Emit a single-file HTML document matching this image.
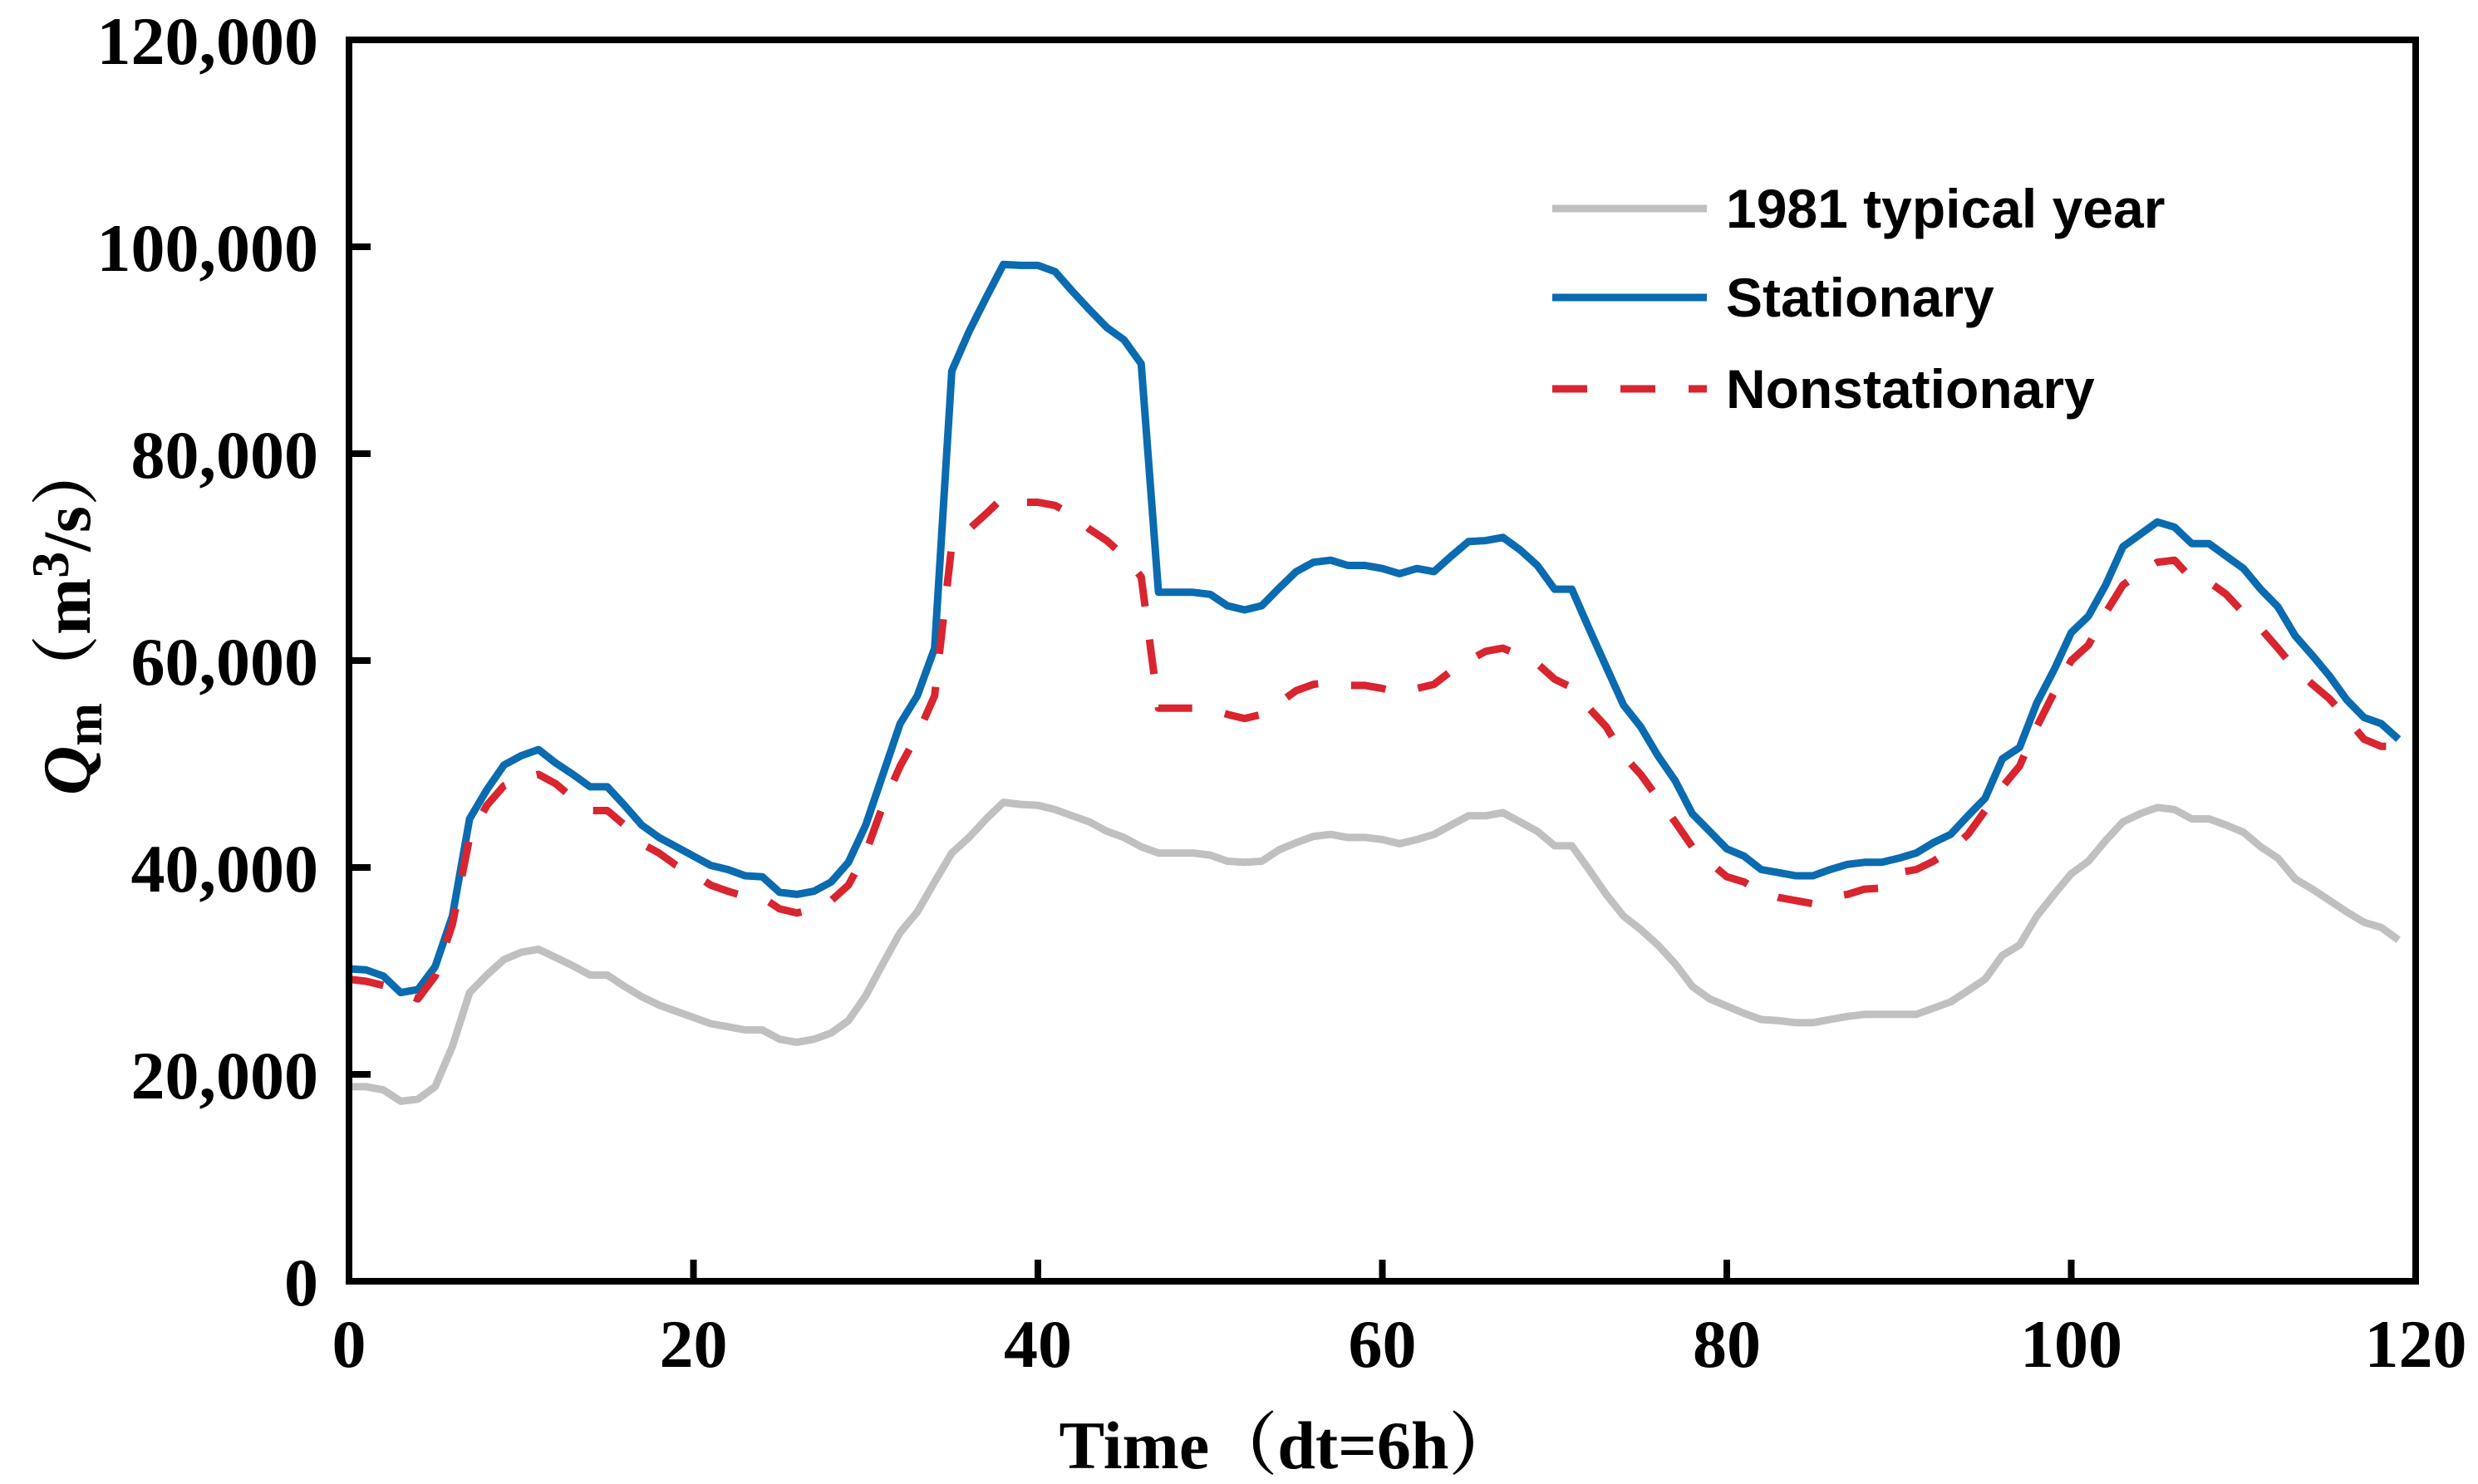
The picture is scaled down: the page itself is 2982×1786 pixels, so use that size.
<!DOCTYPE html>
<html><head><meta charset="utf-8"><style>
html,body{margin:0;padding:0;background:#fff;}
svg{display:block;}
.tk{font-family:"Liberation Serif","Noto Serif CJK SC",serif;font-weight:bold;font-size:82px;fill:#000;}
.lg{font-family:"Liberation Sans",sans-serif;font-weight:bold;font-size:66px;fill:#000;}
</style></head><body>
<svg id="chart" width="2982" height="1786" viewBox="0 0 2982 1786">
<g id="ticks"></g>
<g id="series"></g>
<rect x="420" y="48" width="2487" height="1494" fill="none" stroke="#000" stroke-width="8"/>
<g>
<line x1="1868" y1="251" x2="2054" y2="251" stroke="#c0c0c0" stroke-width="9"/>
<text class="lg" x="2077" y="274">1981 typical year</text>
<line x1="1868" y1="358" x2="2054" y2="358" stroke="#0a6bb0" stroke-width="9"/>
<text class="lg" x="2077" y="381">Stationary</text>
<line x1="1868" y1="468" x2="2054" y2="468" stroke="#d8252f" stroke-width="9" stroke-dasharray="42,40"/>
<text class="lg" x="2077" y="491">Nonstationary</text>
</g>
<text class="tk" x="1550" y="1767" text-anchor="middle" font-size="72">Time（dt=6h）</text>
<text class="tk" transform="translate(108,742) rotate(-90)" text-anchor="middle" font-size="80"><tspan font-style="italic">Q</tspan><tspan font-size="62" dy="14">m</tspan><tspan dy="-14">（m</tspan><tspan font-size="64" dy="-26">3</tspan><tspan dy="26">/s）</tspan></text>
</svg>
<script>
const xTicks=[0,20,40,60,80,100,120];
const yTicks=[0,20000,40000,60000,80000,100000,120000];
const yTickLabels=["0","20,000","40,000","60,000","80,000","100,000","120,000"];
const typical=[18800,18800,18500,17400,17600,18800,22700,27900,29600,31100,31800,32100,31300,30500,29600,29600,28500,27500,26700,26100,25500,24900,24600,24300,24300,23400,23100,23400,24000,25200,27600,30700,33700,35700,38600,41400,42900,44700,46300,46100,46000,45600,45000,44400,43500,42900,42000,41400,41400,41400,41200,40600,40500,40600,41700,42400,43000,43200,42900,42900,42700,42300,42700,43200,44100,45000,45000,45300,44400,43500,42100,42100,39800,37400,35300,34000,32500,30700,28500,27300,26600,25900,25300,25200,25000,25000,25300,25600,25800,25800,25800,25800,26400,27000,28100,29200,31500,32500,35300,37400,39400,40600,42600,44400,45200,45800,45600,44700,44700,44100,43400,42000,40900,38900,37900,36800,35700,34700,34200,33000];
const stationary=[30200,30100,29500,27900,28200,30400,35300,44700,47500,49900,50800,51400,50100,49000,47800,47800,46000,44100,42900,42000,41100,40200,39800,39200,39100,37600,37400,37700,38600,40500,44100,49000,53900,56600,61200,88000,91800,95100,98300,98200,98200,97600,95700,93900,92200,91000,88700,66600,66600,66600,66400,65300,64900,65300,67000,68600,69500,69700,69200,69200,68900,68400,68900,68600,70100,71500,71600,71900,70700,69200,66900,66900,63100,59400,55700,53600,50800,48400,45200,43500,41800,41100,39800,39500,39200,39200,39800,40300,40500,40500,40900,41400,42400,43200,45000,46700,50500,51600,55900,59100,62700,64300,67300,71000,72200,73400,72900,71300,71300,70100,68900,66900,65200,62400,60500,58500,56200,54500,53900,52400];
const nonstationary=[29200,29000,28600,27900,27300,29500,34500,42900,46000,47900,48600,49000,48100,46700,45500,45500,44100,42300,41400,40200,39400,38300,37700,37200,37100,36000,35600,36000,36800,38300,41400,46000,49800,52800,56600,71200,72700,74200,75800,75300,75300,75000,74100,72700,71600,70100,68100,55400,55400,55400,55300,54800,54400,54800,55900,57100,57700,57900,57600,57600,57300,56900,57300,57700,59000,60000,60900,61200,60500,59700,58200,57400,55400,53600,50800,49000,46700,44400,42000,40500,39100,38600,37600,37100,36800,36500,37100,37400,37900,38000,39500,39800,40600,41700,43200,45500,47800,49800,53600,56900,60000,61500,64600,67300,68500,69500,69700,67900,67600,66400,64600,63100,61200,59200,57700,56300,54400,52400,51700,51700];
const NS="http://www.w3.org/2000/svg";
const X0=420,X1=2907,Y0=1542,Y1=48;
function xs(v){return X0+(v-0)/(120-0)*(X1-X0);}
function ys(v){return Y0-(v-0)/(120000-0)*(Y0-Y1);}
const tg=document.getElementById('ticks');
xTicks.forEach(function(t){
  const l=document.createElementNS(NS,'line');
  
  
  l.setAttribute('x1',xs(t));l.setAttribute('x2',xs(t));
  l.setAttribute('y1',Y0);l.setAttribute('y2',Y0-26);
  l.setAttribute('stroke','#000');l.setAttribute('stroke-width','8');
  tg.appendChild(l);
  const tx=document.createElementNS(NS,'text');
  
  
  tx.setAttribute('class','tk');
  tx.setAttribute('x',xs(t));tx.setAttribute('y',Y0+103);
  tx.setAttribute('text-anchor','middle');
  tx.textContent=String(t);
  tg.appendChild(tx);
});
yTicks.forEach(function(t,i){
  const l=document.createElementNS(NS,'line');
  
  
  l.setAttribute('x1',X0);l.setAttribute('x2',X0+26);
  l.setAttribute('y1',ys(t));l.setAttribute('y2',ys(t));
  l.setAttribute('stroke','#000');l.setAttribute('stroke-width','8');
  tg.appendChild(l);
  const tx=document.createElementNS(NS,'text');
  
  
  tx.setAttribute('class','tk');
  tx.setAttribute('x',383);tx.setAttribute('y',ys(t)+29);
  tx.setAttribute('text-anchor','end');
  tx.textContent=yTickLabels[i];
  tg.appendChild(tx);
});
const sg=document.getElementById('series');
function draw(arr,color,dash,name){
  const p=document.createElementNS(NS,'polyline');
  
  
  p.setAttribute('points',arr.map(function(v,i){return xs(i).toFixed(1)+','+ys(v).toFixed(1);}).join(' '));
  p.setAttribute('fill','none');p.setAttribute('stroke',color);
  p.setAttribute('stroke-width','9');p.setAttribute('stroke-linejoin','round');
  if(dash)p.setAttribute('stroke-dasharray',dash);
  sg.appendChild(p);
}
draw(typical,'#c0c0c0',null,'line-1981-typical-year');
draw(stationary,'#0a6bb0',null,'line-stationary');
draw(nonstationary,'#d8252f','42,40','line-nonstationary');
</script>
</body></html>
